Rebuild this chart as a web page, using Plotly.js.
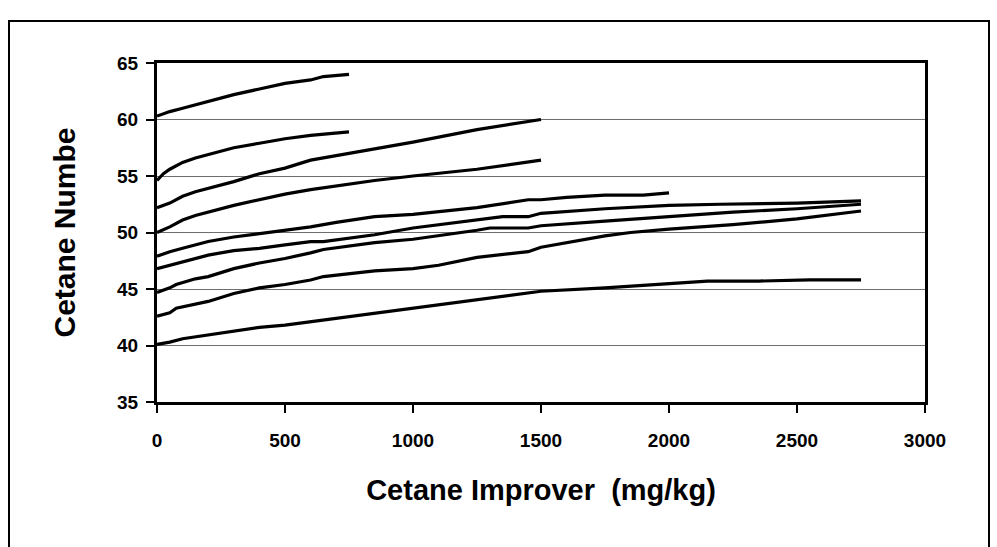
<!DOCTYPE html>
<html>
<head>
<meta charset="utf-8">
<script src="https://cdn.plot.ly/plotly-3.0.1.min.js"></script>
<style>
  html, body { margin: 0; padding: 0; background: #ffffff; }
  #frame { position: absolute; left: 8px; top: 20px; width: 982px; height: 600px; border: 2px solid #000; box-sizing: border-box; pointer-events: none; z-index: 2; }
  #chart { position: absolute; left: 0; top: 0; width: 997px; height: 547px; z-index: 1; }
</style>
</head>
<body>
<div id="chart"></div>
<div id="frame"></div>
<script>
// Cetane improver dose (mg/kg) and cetane number for each fuel
const x1 = [0, 50, 100, 150, 200, 300, 400, 500, 600, 650, 750];
const y1 = [60.3, 60.7, 61.0, 61.3, 61.6, 62.2, 62.7, 63.2, 63.5, 63.8, 64.0];

const x2 = [0, 25, 50, 100, 150, 200, 300, 400, 500, 600, 750];
const y2 = [54.6, 55.2, 55.6, 56.2, 56.6, 56.9, 57.5, 57.9, 58.3, 58.6, 58.9];

const x3 = [0, 50, 100, 150, 300, 400, 500, 600, 750, 850, 1000, 1250, 1500];
const y3 = [52.2, 52.6, 53.2, 53.6, 54.5, 55.2, 55.7, 56.4, 57.0, 57.4, 58.0, 59.1, 60.0];

const x4 = [0, 50, 100, 150, 300, 400, 500, 600, 750, 850, 1000, 1250, 1500];
const y4 = [50.0, 50.5, 51.1, 51.5, 52.4, 52.9, 53.4, 53.8, 54.3, 54.6, 55.0, 55.6, 56.4];

const x5 = [0, 50, 100, 200, 300, 400, 500, 600, 700, 850, 1000, 1250, 1450, 1500, 1600, 1750, 1900, 2000];
const y5 = [47.9, 48.3, 48.6, 49.2, 49.6, 49.9, 50.2, 50.5, 50.9, 51.4, 51.6, 52.2, 52.9, 52.9, 53.1, 53.3, 53.3, 53.5];

const x6 = [0, 50, 100, 200, 300, 400, 500, 600, 650, 850, 1000, 1250, 1350, 1450, 1500, 1750, 2000, 2200, 2500, 2750];
const y6 = [46.8, 47.1, 47.4, 48.0, 48.4, 48.6, 48.9, 49.2, 49.2, 49.8, 50.4, 51.1, 51.4, 51.4, 51.7, 52.1, 52.4, 52.5, 52.6, 52.8];

const x7 = [0, 50, 75, 150, 200, 300, 400, 500, 600, 650, 850, 1000, 1250, 1300, 1450, 1500, 1750, 2000, 2250, 2500, 2750];
const y7 = [44.7, 45.1, 45.4, 45.9, 46.1, 46.8, 47.3, 47.7, 48.2, 48.5, 49.1, 49.4, 50.2, 50.4, 50.4, 50.6, 51.0, 51.4, 51.8, 52.1, 52.5];

const x8 = [0, 50, 75, 150, 200, 300, 400, 500, 600, 650, 850, 1000, 1100, 1250, 1450, 1500, 1750, 1850, 2000, 2250, 2500, 2750];
const y8 = [42.6, 42.9, 43.3, 43.7, 43.9, 44.6, 45.1, 45.4, 45.8, 46.1, 46.6, 46.8, 47.1, 47.8, 48.3, 48.7, 49.7, 50.0, 50.3, 50.7, 51.2, 51.9];

const x9 = [0, 50, 100, 250, 400, 500, 600, 750, 900, 1000, 1250, 1450, 1500, 1750, 2000, 2150, 2350, 2550, 2750];
const y9 = [40.1, 40.3, 40.6, 41.1, 41.6, 41.8, 42.1, 42.5, 43.0, 43.3, 44.0, 44.6, 44.8, 45.1, 45.5, 45.7, 45.7, 45.8, 45.8];

const xTickVals = [0, 500, 1000, 1500, 2000, 2500, 3000];
const yTickVals = [35, 40, 45, 50, 55, 60, 65];
const xTitle = 'Cetane Improver  (mg/kg)';
const yTitle = 'Cetane Numbe';

const seriesX = [x1, x2, x3, x4, x5, x6, x7, x8, x9];
const seriesY = [y1, y2, y3, y4, y5, y6, y7, y8, y9];

const FONT = 'Arial, "Liberation Sans", sans-serif';

const traces = seriesX.map((xs, i) => ({
  type: 'scatter',
  mode: 'lines',
  x: xs,
  y: seriesY[i],
  line: { color: '#000000', width: 3.2 },
  showlegend: false,
  hoverinfo: 'skip'
}));

const layout = {
  width: 997,
  height: 547,
  margin: { l: 157, r: 72, t: 63, b: 145 },
  paper_bgcolor: 'rgba(0,0,0,0)',
  plot_bgcolor: '#ffffff',
  showlegend: false,
  font: { family: FONT, color: '#000000' },
  xaxis: {
    range: [0, 3000],
    tickvals: xTickVals,
    ticktext: xTickVals.map(String),
    showgrid: false,
    zeroline: false,
    showline: true,
    linecolor: '#000000',
    linewidth: 3,
    mirror: true,
    ticks: 'outside',
    ticklen: 8,
    tickwidth: 2,
    tickcolor: '#000000',
    ticklabelstandoff: 11,
    tickfont: { family: FONT, size: 19, color: '#000000', weight: 'bold' },
    title: { text: xTitle, font: { family: FONT, size: 29, color: '#000000', weight: 'bold' }, standoff: 30 },
    automargin: false,
    fixedrange: true
  },
  yaxis: {
    range: [35, 65],
    tickvals: yTickVals,
    ticktext: yTickVals.map(String),
    showgrid: true,
    gridcolor: '#6e6e6e',
    gridwidth: 1,
    zeroline: false,
    showline: true,
    linecolor: '#000000',
    linewidth: 3,
    mirror: true,
    ticks: 'outside',
    ticklen: 8,
    tickwidth: 2,
    tickcolor: '#000000',
    ticklabelstandoff: 4,
    tickfont: { family: FONT, size: 19, color: '#000000', weight: 'bold' },
    title: { text: yTitle, font: { family: FONT, size: 30, color: '#000000', weight: 'bold' }, standoff: 33 },
    automargin: false,
    fixedrange: true
  }
};

Plotly.newPlot('chart', traces, layout, { staticPlot: true, displayModeBar: false });
</script>
</body>
</html>
